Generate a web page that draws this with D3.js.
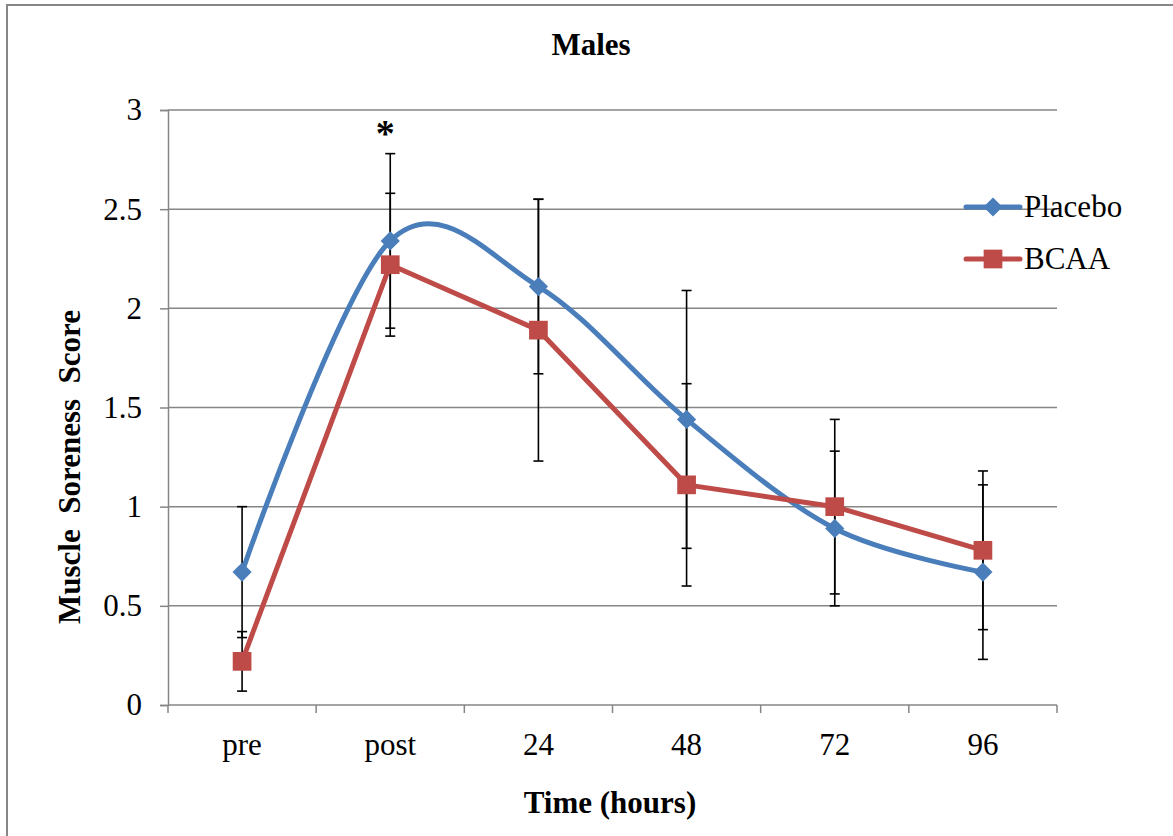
<!DOCTYPE html>
<html>
<head>
<meta charset="utf-8">
<script src="https://cdn.jsdelivr.net/npm/d3@7"></script>
<style>
  body { margin: 0; background: #fff; }
  text { font-family: "Liberation Serif", "Times New Roman", serif; fill: #000; }
</style>
</head>
<body>
<svg id="chart" width="1173" height="836"></svg>
<script>
const categories = ["pre", "post", "24", "48", "72", "96"];
const placebo = [0.67, 2.34, 2.11, 1.44, 0.89, 0.67];
const placeboErr = [0.33, 0.44, 0.44, 0.65, 0.39, 0.44];
const bcaa = [0.22, 2.22, 1.89, 1.11, 1.00, 0.78];
const bcaaErr = [0.15, 0.36, 0.66, 0.51, 0.44, 0.40];
const yTicks = [0, 0.5, 1, 1.5, 2, 2.5, 3];

const svg = d3.select("#chart");
const margin = { left: 168, top: 110, right: 116, bottom: 131 };
const width = 1173 - margin.left - margin.right;
const height = 836 - margin.top - margin.bottom;
const grey = "#868686";
const fs = 31;

// outer chart border (cut off on right and bottom)
svg.append("rect")
    .attr("x", 7).attr("y", 5)
    .attr("width", 1200).attr("height", 900)
    .attr("fill", "none").attr("stroke", grey).attr("stroke-width", 2);

const g = svg.append("g").attr("transform", `translate(${margin.left}, ${margin.top})`);

const x = d3.scaleBand().domain(categories).range([0, width]);
const y = d3.scaleLinear().domain([0, 3]).range([height, 0]);
const cx = d => x(d) + x.bandwidth() / 2;

// gridlines
g.selectAll(".grid").data(yTicks.filter(t => t > 0)).join("line")
    .attr("x1", 0).attr("x2", width)
    .attr("y1", d => y(d)).attr("y2", d => y(d))
    .attr("stroke", grey).attr("stroke-width", 1.5);

// y axis
const yAxis = g.append("g")
    .call(d3.axisLeft(y).tickValues(yTicks).tickSize(8).tickPadding(18).tickFormat(d3.format("")));
yAxis.select(".domain").attr("stroke", grey).attr("stroke-width", 1.5);
yAxis.selectAll(".tick line").attr("stroke", grey).attr("stroke-width", 1.5);
yAxis.selectAll(".tick text").attr("font-size", fs).attr("font-family", "Liberation Serif");

// x axis: ticks at category boundaries
const xAxis = g.append("g").attr("transform", `translate(0, ${height})`);
xAxis.append("line").attr("x1", 0).attr("x2", width).attr("y1", 0).attr("y2", 0)
    .attr("stroke", grey).attr("stroke-width", 1.5);
const bounds = categories.map(c => x(c)).concat([width]);
xAxis.selectAll(".xt").data(bounds).join("line")
    .attr("x1", d => d).attr("x2", d => d).attr("y1", 0).attr("y2", 8)
    .attr("stroke", grey).attr("stroke-width", 1.5);
xAxis.selectAll(".xl").data(categories).join("text")
    .attr("x", d => cx(d)).attr("y", 50)
    .attr("text-anchor", "middle").attr("font-size", fs)
    .text(d => d);

// error bars
function errorBars(vals, errs) {
    const eg = g.append("g").attr("stroke", "#000").attr("stroke-width", 1.6);
    categories.forEach((c, i) => {
        const px = cx(c);
        const lo = y(vals[i] - errs[i]), hi = y(vals[i] + errs[i]);
        eg.append("line").attr("x1", px).attr("x2", px).attr("y1", lo).attr("y2", hi);
        eg.append("line").attr("x1", px - 5).attr("x2", px + 5).attr("y1", lo).attr("y2", lo);
        eg.append("line").attr("x1", px - 5).attr("x2", px + 5).attr("y1", hi).attr("y2", hi);
    });
}
errorBars(placebo, placeboErr);
errorBars(bcaa, bcaaErr);

const blue = "#4A7EBB", red = "#BE4B48";

// placebo line (smoothed)
const smoothLine = d3.line().x((d, i) => cx(categories[i])).y(d => y(d)).curve(d3.curveCardinal.tension(0));
g.append("path").datum(placebo)
    .attr("fill", "none").attr("stroke", blue).attr("stroke-width", 5)
    .attr("stroke-linejoin", "round").attr("d", smoothLine);

// BCAA line (straight)
const straightLine = d3.line().x((d, i) => cx(categories[i])).y(d => y(d));
g.append("path").datum(bcaa)
    .attr("fill", "none").attr("stroke", red).attr("stroke-width", 5)
    .attr("stroke-linejoin", "round").attr("d", straightLine);

const diamond = d3.symbol().type(d3.symbolSquare).size(185);
const square = d3.symbol().type(d3.symbolSquare).size(350);

g.selectAll(".pm").data(placebo).join("path")
    .attr("transform", (d, i) => `translate(${cx(categories[i])}, ${y(d)}) rotate(45)`)
    .attr("d", diamond).attr("fill", blue);
g.selectAll(".bm").data(bcaa).join("path")
    .attr("transform", (d, i) => `translate(${cx(categories[i])}, ${y(d)})`)
    .attr("d", square).attr("fill", red);

// significance marker
g.append("text")
    .attr("x", cx("post") - 5).attr("y", y(2.82))
    .attr("text-anchor", "middle").attr("font-size", 38).attr("font-weight", "bold")
    .attr("font-family", "Liberation Sans")
    .text("*");

// legend
const legendItems = [
    { label: "Placebo", color: blue, type: "diamond" },
    { label: "BCAA", color: red, type: "square" }
];
const legend = svg.append("g").attr("transform", "translate(966, 207)");
legendItems.forEach((item, i) => {
    const ly = i * 52;
    legend.append("line")
        .attr("x1", 0).attr("x2", 54).attr("y1", ly).attr("y2", ly)
        .attr("stroke", item.color).attr("stroke-width", 5).attr("stroke-linecap", "round");
    legend.append("path")
        .attr("transform", `translate(27, ${ly})` + (item.type === "diamond" ? " rotate(45)" : ""))
        .attr("d", item.type === "diamond" ? diamond : square)
        .attr("fill", item.color);
    legend.append("text")
        .attr("x", 58).attr("y", ly + 10)
        .attr("font-size", fs)
        .text(item.label);
});

// title and axis titles
svg.append("text")
    .attr("x", 591).attr("y", 55)
    .attr("text-anchor", "middle").attr("font-size", fs).attr("font-weight", "bold")
    .text("Males");

svg.append("text")
    .attr("x", 610).attr("y", 813)
    .attr("text-anchor", "middle").attr("font-size", fs).attr("font-weight", "bold")
    .text("Time (hours)");

svg.append("text")
    .attr("transform", "rotate(-90)")
    .attr("x", -467).attr("y", 80)
    .attr("text-anchor", "middle").attr("font-size", fs).attr("font-weight", "bold")
    .style("white-space", "pre")
    .text("Muscle  Soreness  Score");
</script>
</body>
</html>
